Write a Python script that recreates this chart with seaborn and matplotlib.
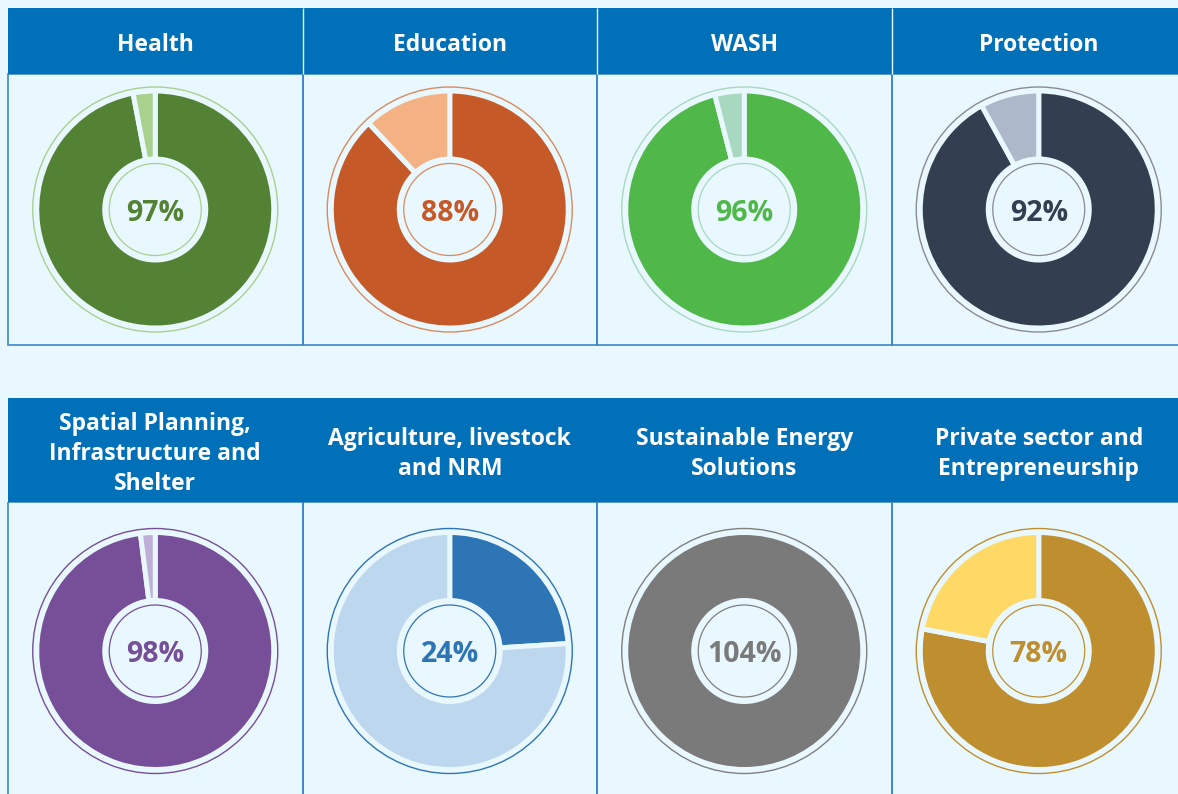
import matplotlib
matplotlib.use("Agg")
import matplotlib.pyplot as plt
from matplotlib.patches import Rectangle, Circle
import seaborn as sns

# Sector results (% of target reached)
categories = ["Health", "Education", "WASH", "Protection",
              "Spatial Planning,\nInfrastructure and\nShelter",
              "Agriculture, livestock\nand NRM",
              "Sustainable Energy\nSolutions",
              "Private sector and\nEntrepreneurship"]
achieved = [97, 88, 96, 92, 98, 24, 104, 78]

main_colors = ["#548235", "#c55a28", "#50b848", "#333f50",
               "#764f98", "#2e75b6", "#7a7a7a", "#bf8f2f"]
light_colors = ["#a9d18e", "#f4b183", "#a8d8c0", "#adb9ca",
                "#bfaed6", "#bdd7ee", "#b0b0b0", "#ffd966"]
ring_colors = ["#a9d18e", "#d98a5e", "#a8d8c0", "#8a8a92",
               "#764f98", "#2e75b6", "#808080", "#bf8f2f"]

BG = "#e9f7fe"
BLUE = "#0070b9"
BORDER = "#3b87c6"

sns.set_style("white")
plt.rcParams["font.family"] = ["Open Sans", "DejaVu Sans"]

W, H = 1178, 794
fig = plt.figure(figsize=(W / 100, H / 100), dpi=100, facecolor=BG)

# fond en coordonnées pixels
bg = fig.add_axes([0, 0, 1, 1])
bg.set_xlim(0, W)
bg.set_ylim(H, 0)
bg.axis("off")

col_edges = [8, 302.5, 597, 891.5, 1186]
row_heads = [(8, 74), (398, 502)]
row_cells = [(74, 345), (502, 800)]

for r in range(2):
    h0, h1 = row_heads[r]
    c0, c1 = row_cells[r]
    for c in range(4):
        x0, x1 = col_edges[c], col_edges[c + 1]
        bg.add_patch(Rectangle((x0, c0), x1 - x0, c1 - c0, fill=False,
                               edgecolor=BORDER, linewidth=1.2))
    bg.add_patch(Rectangle((8, h0), col_edges[-1] - 8, h1 - h0,
                           facecolor=BLUE, edgecolor="none"))
    if r == 0:
        bg.vlines(col_edges[1:4], h0, h1, color=BG, linewidth=1)

    for c in range(4):
        i = r * 4 + c
        cx = (col_edges[c] + col_edges[c + 1]) / 2
        bg.text(cx, (h0 + h1) / 2 + 4, categories[i], ha="center",
                va="center", color="white", fontsize=16.5, fontweight="bold",
                linespacing=1.35)

# donuts
half = 130
gap = 5
for i, v in enumerate(achieved):
    r, c = divmod(i, 4)
    cx = (col_edges[c] + col_edges[c + 1]) / 2
    cy = sum(row_cells[r]) / 2
    ax = fig.add_axes([(cx - half) / W, (H - cy - half) / H,
                       2 * half / W, 2 * half / H])
    if v < 100:
        vals = [v, 100 - v]
        cols = [main_colors[i], light_colors[i]]
    else:
        vals = [v]
        cols = [main_colors[i]]
    ax.pie(vals, colors=cols, startangle=90, counterclock=False,
           radius=116 + gap / 2,
           wedgeprops=dict(width=63 + gap, edgecolor=BG,
                           linewidth=gap * 72 / 100))
    ax.add_patch(Circle((0, 0), 122.5, fill=False,
                        edgecolor=ring_colors[i], linewidth=1.0))
    ax.add_patch(Circle((0, 0), 46, fill=False,
                        edgecolor=ring_colors[i], linewidth=0.9))
    ax.text(0, -4, f"{v}%", ha="center", va="center", fontsize=20.5,
            fontweight="bold", color=main_colors[i])
    ax.set_xlim(-half, half)
    ax.set_ylim(-half, half)
    ax.set_aspect("equal")

fig.savefig("out.png", dpi=100, facecolor=BG)
